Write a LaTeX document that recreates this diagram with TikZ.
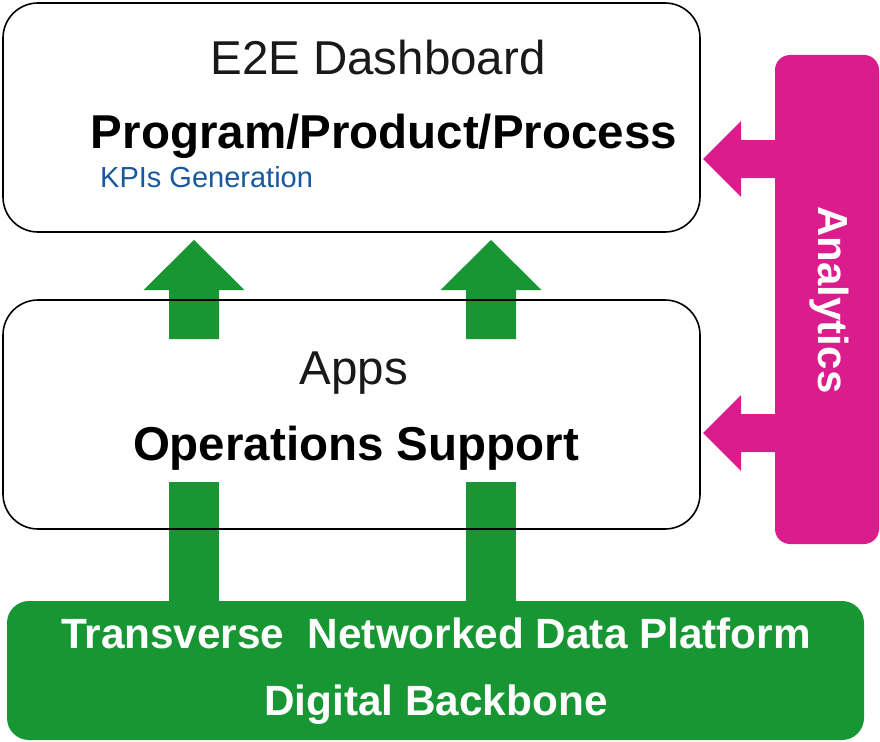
\documentclass[tikz,border=0pt]{standalone}
\usepackage{fontspec}
\setmainfont{Liberation Sans}
\definecolor{grn}{RGB}{25,150,52}
\definecolor{mag}{RGB}{218,28,140}
\definecolor{kpiblue}{RGB}{24,88,160}
\begin{document}
\begin{tikzpicture}[x=1pt,y=-1pt,
  layerbox/.style={draw=black, line width=1.6pt, rounded corners=35pt},
  bigtxt/.style={anchor=base, inner sep=0pt, font=\fontsize{47.5}{50}\selectfont},
  bigbold/.style={anchor=base, inner sep=0pt, font=\fontsize{47.5}{50}\selectfont\bfseries},
  whitebold/.style={anchor=base, inner sep=0pt, text=white, font=\fontsize{42.3}{45}\selectfont\bfseries},
  greenfill/.style={fill=grn},
  magfill/.style={fill=mag}]
\useasboundingbox (0,0) rectangle (880,741);

% box corners (outlines drawn later, on top of the green arrows)
\path (3,3) coordinate (dashNW) (700,232) coordinate (dashSE);
\path (3,300) coordinate (appsNW) (700,529) coordinate (appsSE);

% green platform
\node[greenfill, rounded corners=22pt, anchor=north west, minimum width=857pt, minimum height=139pt, inner sep=0pt, outer sep=0pt] (plat) at (7,601) {};
\node[whitebold] (platA) at (436,648) {Transverse\ \ Networked Data Platform};
\node[whitebold] (platB) at (436,715) {Digital Backbone};

% lower green shafts (platform -> apps)
\coordinate (s1) at (194,604);
\coordinate (s2) at (491,604);
\fill[greenfill] (s1) ++(-25,0) rectangle ++(50,-122);
\fill[greenfill] (s2) ++(-25,0) rectangle ++(50,-122);

% upper green arrows (apps -> dashboard)
\coordinate (u1) at (194,339);
\coordinate (u2) at (491,339);
\foreach \c in {u1,u2}{
  \fill[greenfill] (\c) ++(-25,0) -- ++(0,-49) -- ++(-25.5,0) -- ++(50.5,-50) -- ++(50.5,50) -- ++(-25.5,0) -- ++(0,49) -- cycle;
}

% layer boxes
\draw[layerbox] (dashNW) rectangle (dashSE);
\draw[layerbox] (appsNW) rectangle (appsSE);
\node[bigtxt, text=black!90] (dashT) at (378,75) {E2E Dashboard};
\node[bigbold] (dashP) at (384,148) {Program/Product/Process};
\node[anchor=base west, inner sep=0pt, text=kpiblue, font=\fontsize{29}{31}\selectfont] (kpi) at (100,187) {KPIs Generation};
\node[bigtxt, text=black!90] (appsT) at (354,384) {Apps};
\node[bigbold] (appsO) at (356,460) {Operations Support};

% analytics bar
\node[magfill, rounded corners=15pt, anchor=north west, minimum width=104pt, minimum height=489pt, inner sep=0pt, outer sep=0pt] (ana) at (775,55) {};
\node[rotate=-90, text=white, inner sep=0pt, font=\fontsize{42}{44}\selectfont\bfseries] (anaT) at (829,300) {Analytics};

% magenta arrows (analytics -> boxes)
\coordinate (m1) at (776,159);
\coordinate (m2) at (776,433);
\foreach \c in {m1,m2}{
  \fill[magfill] (\c) ++(0,-19) -- ++(-35,0) -- ++(0,-19) -- ++(-38,38) -- ++(38,38) -- ++(0,-19) -- ++(35,0) -- cycle;
}
\end{tikzpicture}
\end{document}
